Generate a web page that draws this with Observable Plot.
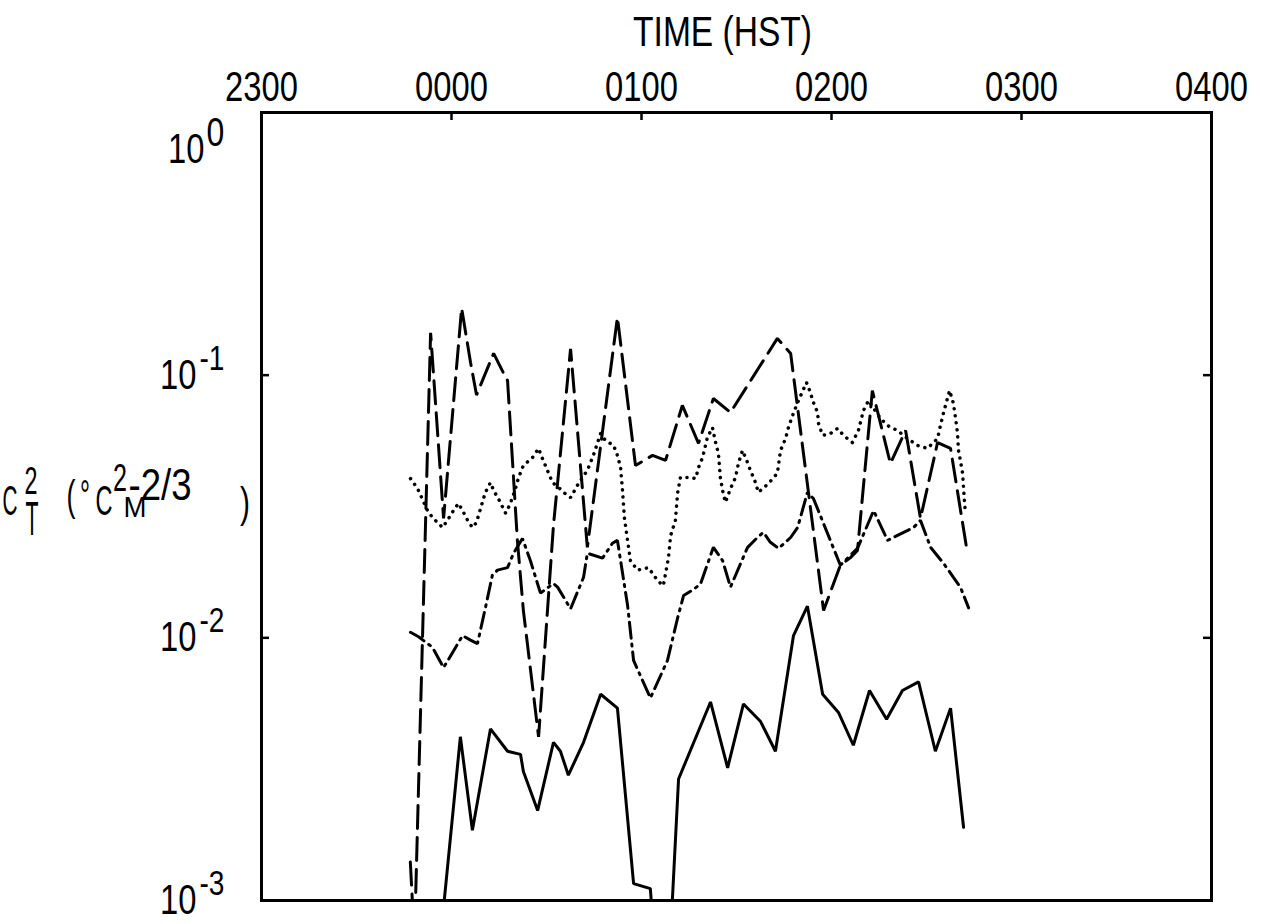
<!DOCTYPE html>
<html><head><meta charset="utf-8">
<script src="https://cdn.jsdelivr.net/npm/d3@7"></script>
<script src="https://cdn.jsdelivr.net/npm/@observablehq/plot@0.6"></script>
<style>body{margin:0;background:#fff}</style>
</head><body><div id="chart"></div>
<script>
// ---- axis ticks / labels (minutes after 2300 HST) ----
const timeTickMinutes = [0, 60, 120, 180, 240, 300];
const timeTickLabels = ["2300", "0000", "0100", "0200", "0300", "0400"];
const decadeTicks = [1, 0.1, 0.01, 0.001];
const decadeExponents = ["0", "-1", "-2", "-3"];

// ---- series: solid ----
const solidTime = [55.9, 62.8, 66.6, 72.3, 77.7, 81.8, 82.7, 87.2, 92.2, 94.4, 96.9, 101.7, 107.1, 112.4, 117.5, 122.8, 124.4, 128.8, 131.7, 141.8, 147.2, 152.2, 157.6, 162.3, 168.0, 172.4, 177.2, 182.2, 186.9, 192.0, 197.4, 202.4, 207.5, 212.8, 217.6, 221.7];
const solidValue = [0.0006, 0.0042, 0.00185, 0.0045, 0.0037, 0.0036, 0.0031, 0.0022, 0.004, 0.0037, 0.003, 0.004, 0.0061, 0.0054, 0.00116, 0.00111, 0.0006, 0.0006, 0.0029, 0.0057, 0.0032, 0.0056, 0.0048, 0.0037, 0.0102, 0.0132, 0.0061, 0.0052, 0.0039, 0.0063, 0.0049, 0.0063, 0.0068, 0.0037, 0.0054, 0.0019];

// ---- series: dashed ----
const dashedTime = [47, 48.3, 53.4, 57.5, 63.2, 66.0, 67.9, 73.3, 76.4, 77.7, 80.8, 82.7, 87.5, 92.2, 97.6, 102.9, 112.4, 118.1, 123.5, 127.6, 132.9, 138.0, 142.7, 148.1, 162.9, 167.1, 177.5, 182.8, 186.0, 188.2, 192.9, 198.6, 203.4, 208.1, 213.5, 217.6, 222.9];
const dashedValue = [0.0014, 0.0007, 0.145, 0.0285, 0.18, 0.112, 0.084, 0.121, 0.102, 0.0954, 0.0235, 0.0127, 0.0042, 0.0268, 0.126, 0.0221, 0.166, 0.0453, 0.0495, 0.0474, 0.0767, 0.055, 0.0815, 0.0721, 0.138, 0.121, 0.0127, 0.0189, 0.0202, 0.0215, 0.0874, 0.0461, 0.0616, 0.0285, 0.0554, 0.0526, 0.0211];

// ---- series: dash-dot ----
const dashDotTime = [47.05, 49.6, 54.0, 57.5, 63.5, 66.0, 68.2, 70.7, 72.9, 74.5, 77.7, 79.6, 82.4, 84.9, 88.1, 92.2, 93.5, 97.6, 101.7, 102.9, 107.7, 110.8, 112.4, 115.6, 117.5, 122.8, 128.2, 131.4, 133.3, 136.1, 138.6, 142.7, 145.6, 148.1, 151.3, 153.5, 156.6, 158.5, 160.7, 163.3, 167.1, 169.3, 172.4, 174.3, 182.8, 188.2, 193.3, 197.7, 205.9, 208.1, 211.3, 215.4, 218.5, 220.7, 223.3];
const dashDotValue = [0.0105, 0.0101, 0.0092, 0.0077, 0.0102, 0.0098, 0.0095, 0.013, 0.0173, 0.0181, 0.0185, 0.021, 0.0239, 0.0197, 0.0148, 0.0161, 0.0156, 0.0129, 0.017, 0.021, 0.0201, 0.0229, 0.0235, 0.0133, 0.0082, 0.0059, 0.0082, 0.0119, 0.0145, 0.0152, 0.016, 0.0221, 0.0197, 0.0156, 0.0192, 0.0221, 0.0241, 0.0252, 0.0231, 0.0219, 0.0241, 0.0263, 0.0358, 0.0339, 0.0189, 0.0219, 0.0305, 0.0235, 0.0263, 0.028, 0.0221, 0.0192, 0.017, 0.0156, 0.013];

// ---- series: dotted ----
const dottedTime = [47.05, 49.3, 52.7, 54.9, 57.2, 59.1, 60.6, 62.2, 63.5, 65.1, 66.6, 67.9, 68.8, 70.7, 72.3, 73.3, 74.8, 77.1, 78.6, 80.2, 81.2, 82.7, 85.6, 87.5, 88.7, 90.3, 91.9, 93.8, 95.4, 97.6, 100.1, 102.9, 104.8, 107.1, 108.6, 111.2, 112.4, 113.4, 114.0, 114.6, 115.6, 116.5, 118.7, 122.2, 125.1, 126.9, 128.5, 129.2, 130.7, 131.4, 132.3, 135.5, 137.1, 138.0, 139.3, 140.8, 142.4, 143.4, 144.3, 144.9, 145.6, 146.5, 148.1, 149.7, 150.6, 151.9, 153.2, 154.4, 156.0, 156.9, 160.1, 162.9, 163.9, 165.5, 166.4, 167.7, 169.3, 172.1, 173.1, 174.3, 175.6, 175.9, 177.2, 179.7, 181.9, 183.8, 186.6, 188.5, 190.1, 191.7, 193.3, 195.5, 197.7, 200.8, 204.0, 207.2, 210.3, 213.5, 214.4, 215.4, 217.3, 218.5, 219.2, 219.8, 220.1, 220.7, 221.4, 222.0, 222.3];
const dottedValue = [0.0404, 0.037, 0.030, 0.028, 0.0263, 0.0285, 0.0305, 0.0325, 0.0305, 0.028, 0.0263, 0.0275, 0.030, 0.0358, 0.039, 0.0364, 0.0339, 0.0298, 0.0325, 0.037, 0.0408, 0.0453, 0.0486, 0.0526, 0.0482, 0.0434, 0.039, 0.0374, 0.0358, 0.0342, 0.0387, 0.0434, 0.0495, 0.06, 0.0564, 0.054, 0.0495, 0.0445, 0.0364, 0.0287, 0.0235, 0.0197, 0.0181, 0.0185, 0.0165, 0.0158, 0.0201, 0.0245, 0.028, 0.0355, 0.0408, 0.0408, 0.0404, 0.0445, 0.0486, 0.0579, 0.0632, 0.0554, 0.0503, 0.0408, 0.0364, 0.0328, 0.037, 0.0408, 0.0461, 0.0517, 0.0474, 0.0434, 0.039, 0.0358, 0.0387, 0.0423, 0.0517, 0.0574, 0.0632, 0.0702, 0.0787, 0.0938, 0.0874, 0.0787, 0.0721, 0.0655, 0.059, 0.06, 0.0627, 0.059, 0.0554, 0.0616, 0.0734, 0.0801, 0.0747, 0.0684, 0.0643, 0.0616, 0.0574, 0.054, 0.0526, 0.0574, 0.0643, 0.0721, 0.0874, 0.078, 0.0684, 0.06, 0.0517, 0.0474, 0.0423, 0.0328, 0.030];

const toRows = (ts, vs) => ts.map((t, i) => ({t, v: vs[i]}));
const solid = toRows(solidTime, solidValue);
const dashed = toRows(dashedTime, dashedValue);
const dashDot = toRows(dashDotTime, dashDotValue);
const dotted = toRows(dottedTime, dottedValue);

const FONT = "'Liberation Sans', Arial, sans-serif";
const lineBase = {x: "t", y: "v", stroke: "black", strokeWidth: 3, clip: true, strokeLinejoin: "miter", curve: "linear"};
const txt = {fontFamily: FONT, fill: "black"};

const chart = Plot.plot({
  width: 1262, height: 924,
  marginLeft: 261, marginRight: 51, marginTop: 112, marginBottom: 24,
  x: {domain: [0, 300], axis: null},
  y: {type: "log", domain: [0.001, 1], axis: null},
  style: {fontFamily: FONT, background: "white", color: "black"},
  marks: [
    Plot.line(solid, {...lineBase}),
    Plot.line(dashed, {...lineBase, strokeDasharray: "23,9"}),
    Plot.line(dashDot, {...lineBase, strokeDasharray: "16,6,2,6"}),
    Plot.line(dotted, {...lineBase, strokeWidth: 3.5, strokeLinecap: "round", strokeDasharray: "0.1,7"}),
    Plot.frame({stroke: "black", strokeWidth: 3}),
    Plot.tickX(timeTickMinutes.slice(1, -1), {x: d => d, stroke: "black", strokeWidth: 2.5, insetBottom: 780}),
    Plot.tickY(decadeTicks.slice(1, -1), {y: d => d, stroke: "black", strokeWidth: 2.5, insetRight: 942}),
    Plot.tickY(decadeTicks.slice(1, -1), {y: d => d, stroke: "black", strokeWidth: 2.5, insetLeft: 942}),
    Plot.text(timeTickMinutes, {x: d => d, text: (d, i) => timeTickLabels[i], frameAnchor: "top", dy: -12, lineAnchor: "bottom", fontSize: 42, ...txt}),
    Plot.text(["TIME (HST)"], {x: () => 150, text: d => d, frameAnchor: "top", dx: -14, dy: -67, lineAnchor: "bottom", fontSize: 43, ...txt}),
    // decade labels 10^n
    Plot.text(decadeTicks.slice(0, 1), {y: d => d, text: () => "10", frameAnchor: "left", textAnchor: "end", dx: -57, dy: 37, fontSize: 42, ...txt}),
    Plot.text(decadeTicks.slice(0, 1), {y: d => d, text: (d, i) => decadeExponents[i], frameAnchor: "left", textAnchor: "start", dx: -55, dy: 20, fontSize: 41, ...txt}),
    Plot.text(decadeTicks.slice(1), {y: d => d, text: () => "10", frameAnchor: "left", textAnchor: "end", dx: -65, dy: 0, fontSize: 42, ...txt}),
    Plot.text(decadeTicks.slice(1), {y: d => d, text: (d, i) => decadeExponents[i + 1], frameAnchor: "left", textAnchor: "start", dx: -62, dy: -17, fontSize: 36, ...txt})
  ]
});
document.getElementById("chart").appendChild(chart);

// narrow the glyphs (plotter lettering) by a horizontal scale about each text's anchor
const SQUEEZE = 0.78;
d3.select(chart).selectAll("text").each(function () {
  const bb = this.getBBox();
  if (!bb.width) return;
  const holder = this.closest("[text-anchor]");
  const anchor = holder ? holder.getAttribute("text-anchor") : "start";
  const ax = anchor === "end" ? bb.x + bb.width : anchor === "middle" ? bb.x + bb.width / 2 : bb.x;
  const prev = this.getAttribute("transform") || "";
  this.setAttribute("transform", `${prev} translate(${ax.toFixed(2)},0) scale(${SQUEEZE},1) translate(${(-ax).toFixed(2)},0)`.trim());
});

// y-axis title: C_T^2 (°C^2 M^-2/3), each piece scaled horizontally to the original's width
const g = d3.select(chart).append("g").attr("font-family", FONT).attr("fill", "black");
const titleParts = [
  {t: "C", x: 10, y: 515, s: 42, w: 15},
  {t: "2", x: 31, y: 494, s: 38, w: 13},
  {t: "T", x: 32, y: 535, s: 48, w: 13},
  {t: "(", x: 71, y: 510, s: 42, w: 9},
  {t: "°", x: 85, y: 510, s: 42, w: 10},
  {t: "C", x: 104, y: 515, s: 42, w: 17},
  {t: "2", x: 120, y: 491, s: 38, w: 14},
  {t: "M", x: 135, y: 517, s: 30, w: 23},
  {t: "-2/3", x: 160, y: 500, s: 44, w: 63},
  {t: ")", x: 245, y: 517, s: 42, w: 10}
];
titleParts.forEach(p => {
  const t = g.append("text").attr("font-size", p.s).text(p.t);
  const len = t.node().getComputedTextLength() || p.w;
  t.attr("transform", `translate(${p.x},${p.y}) scale(${(p.w / len).toFixed(3)},1)`);
});
</script>
</body></html>
